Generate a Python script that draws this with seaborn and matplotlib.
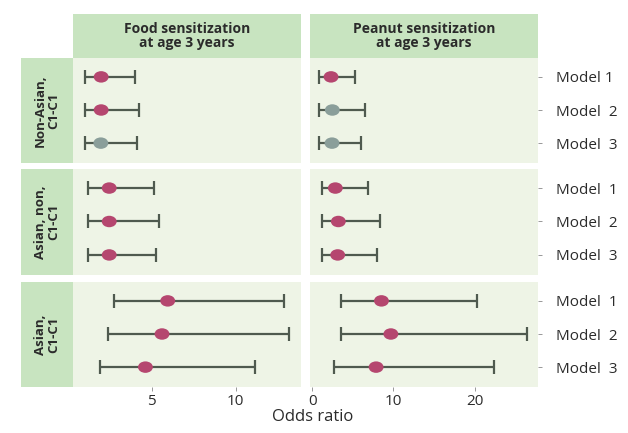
import numpy as np
import pandas as pd
import seaborn as sns
import matplotlib.pyplot as plt
from matplotlib.path import Path
from matplotlib.markers import MarkerStyle

sns.set_theme(style="white")
plt.rcParams['font.family'] = ['Open Sans', 'DejaVu Sans']

# data
outcomes = ["Food sensitization\nat age 3 years", "Peanut sensitization\nat age 3 years"]
groups = ["Non-Asian,\nC1-C1", "Asian, non,\nC1-C1", "Asian,\nC1-C1"]
models = ["Model 1", "Model 2", "Model 3"]

food_or = [1.98, 1.98, 1.96, 2.46, 2.46, 2.46, 5.95, 5.61, 4.62]
food_lo = [1.0, 1.0, 1.0, 1.17, 1.17, 1.17, 2.76, 2.36, 1.89]
food_hi = [4.0, 4.23, 4.09, 5.12, 5.42, 5.28, 12.86, 13.21, 11.13]
food_sig = [1, 1, 0, 1, 1, 1, 1, 1, 1]

peanut_or = [2.31, 2.47, 2.43, 2.84, 3.21, 3.13, 8.52, 9.68, 7.86]
peanut_lo = [0.86, 0.86, 0.86, 1.2, 1.2, 1.2, 3.5, 3.5, 2.68]
peanut_hi = [5.27, 6.5, 6.0, 6.9, 8.4, 7.99, 20.3, 26.4, 22.4]
peanut_sig = [1, 0, 0, 1, 1, 1, 1, 1, 1]

model_labels = [["Model 1", "Model  2", "Model  3"],
                ["Model  1", "Model  2", "Model  3"],
                ["Model  1", "Model  2", "Model  3"]]

rows = []
for oi, (o, lo, hi, sg) in enumerate([(food_or, food_lo, food_hi, food_sig),
                                      (peanut_or, peanut_lo, peanut_hi, peanut_sig)]):
    for gi in range(3):
        for mi in range(3):
            k = gi * 3 + mi
            rows.append(dict(outcome=oi, group=gi, model=mi, OR=o[k],
                             lo=lo[k], hi=hi[k], sig="sig" if sg[k] else "ns"))
df = pd.DataFrame(rows)

bg = "#EEF4E6"
head = "#C8E4C0"
bar_c = "#4F5A4F"
pal = {"sig": "#B5466F", "ns": "#8A9E9A"}
txt = "#2B2B2B"

# wide oval marker
circ = Path.unit_circle()
oval = MarkerStyle(Path(circ.vertices * np.array([1.3, 1.0]), circ.codes))

W, H = 628, 433
fig = plt.figure(figsize=(W / 100, H / 100), dpi=100)

def fr(x0, y0, x1, y1):
    return [x0 / W, 1 - y1 / H, (x1 - x0) / W, (y1 - y0) / H]

col_x = [(73, 301), (310, 538)]
row_y = [(58, 163), (169, 275), (282, 387)]
xlims = [(0.3, 13.9), (-0.28, 27.8)]
xticks = [[5, 10], [0, 10, 20]]

for ci, (x0, x1) in enumerate(col_x):
    hax = fig.add_axes(fr(x0, 14, x1, 58))
    hax.set_facecolor(head)
    hax.set_xticks([]); hax.set_yticks([])
    for s in hax.spines.values():
        s.set_visible(False)
    hax.text(0.5, 0.5, outcomes[ci], ha="center", va="center", fontsize=10,
             fontweight="bold", color=txt, linespacing=1.0, transform=hax.transAxes)

for gi, (y0, y1) in enumerate(row_y):
    rax = fig.add_axes(fr(21, y0, 73, y1))
    rax.set_facecolor(head)
    rax.set_xticks([]); rax.set_yticks([])
    for s in rax.spines.values():
        s.set_visible(False)
    rax.text(0.5, 0.5, groups[gi], ha="center", va="center", rotation=90, fontsize=9.5,
             fontweight="bold", color=txt, linespacing=1.0, transform=rax.transAxes)

    for ci, (x0, x1) in enumerate(col_x):
        ax = fig.add_axes(fr(x0, y0, x1, y1))
        ax.set_facecolor(bg)
        d = df[(df.outcome == ci) & (df.group == gi)]
        ax.errorbar(d.OR, d.model, xerr=[d.OR - d.lo, d.hi - d.OR], fmt="none",
                    ecolor=bar_c, elinewidth=1.6, capsize=5, capthick=1.6, zorder=2)
        sns.scatterplot(data=d, x="OR", y="model", hue="sig", palette=pal,
                        marker=oval, s=115, linewidth=0, legend=False, ax=ax, zorder=3)
        ax.set_xlim(*xlims[ci])
        ax.set_ylim(2.6, -0.57)
        ax.set_xlabel(""); ax.set_ylabel("")
        for s in ax.spines.values():
            s.set_visible(False)
        if gi == 2:
            ax.set_xticks(xticks[ci])
            ax.tick_params(axis="x", length=3, width=0.6, color="#888888",
                           labelsize=11, labelcolor=txt, pad=2, bottom=True)
        else:
            ax.set_xticks([])
        if ci == 1:
            ax.yaxis.tick_right()
            ax.set_yticks([0, 1, 2])
            ax.set_yticklabels(model_labels[gi])
            ax.tick_params(axis="y", length=3, width=0.6, color="#888888",
                           labelsize=11, labelcolor=txt, pad=10, right=True)
        else:
            ax.set_yticks([])

fig.text(313 / W, 1 - 417 / H, "Odds ratio", ha="center", va="center",
         fontsize=12, color=txt)

fig.savefig("out.png", dpi=100, facecolor="white")
